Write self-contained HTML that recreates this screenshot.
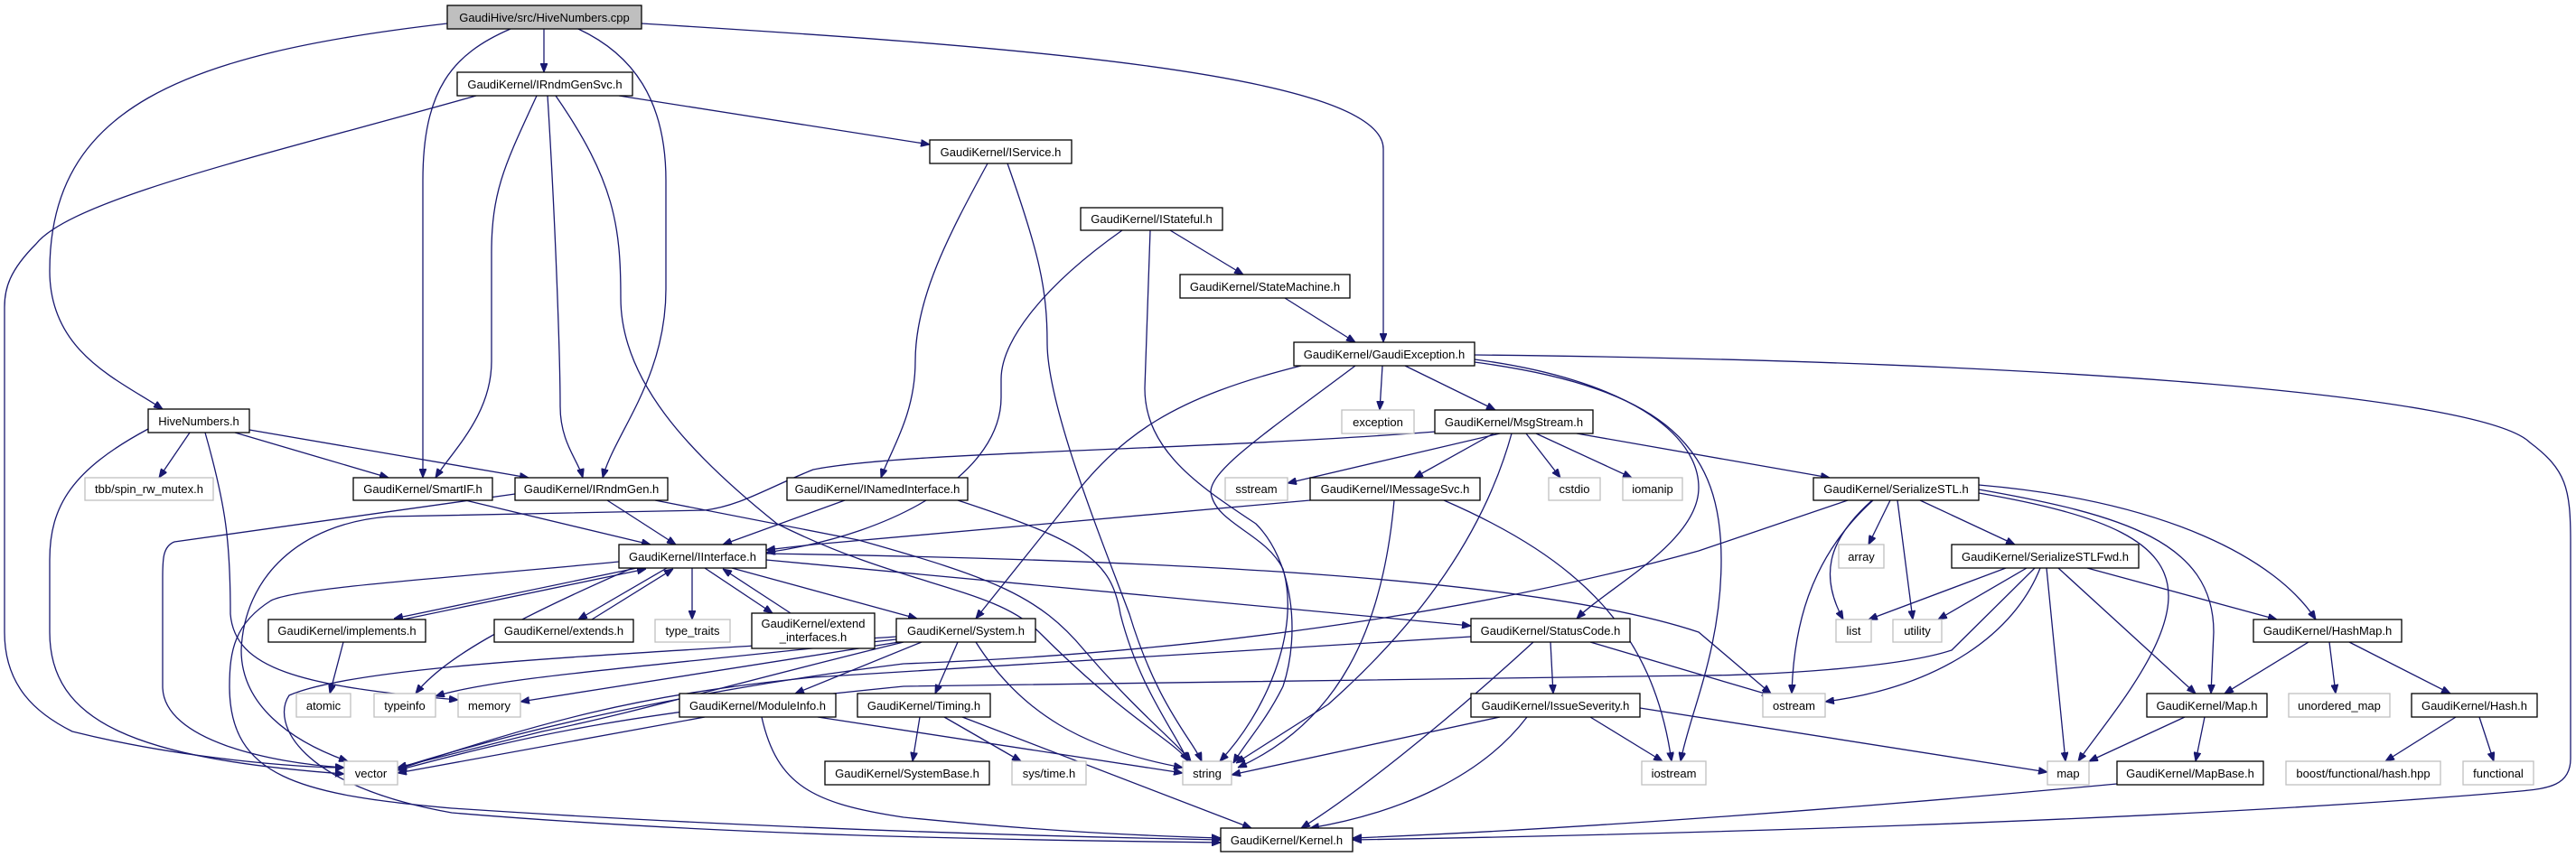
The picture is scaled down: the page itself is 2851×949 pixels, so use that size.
<!DOCTYPE html>
<html><head><meta charset="utf-8"><style>
html,body{margin:0;padding:0;background:#fff;}
svg{display:block;}
text{font-family:"Liberation Sans",Arial,sans-serif;font-size:13px;fill:#000;text-anchor:middle;}
.n{fill:#fff;stroke:#000;stroke-width:1.3;}
.g{fill:#fff;stroke:#bfbfbf;stroke-width:1.3;}
.e{fill:none;stroke:#191970;stroke-width:1.3;marker-end:url(#a);}
</style></head><body>
<svg width="2851" height="949" viewBox="0 0 2851 949" xmlns="http://www.w3.org/2000/svg">
<defs><marker id="a" viewBox="0 0 10 8" refX="10" refY="4" markerWidth="10" markerHeight="8" orient="auto" markerUnits="userSpaceOnUse"><path d="M0,0 L10,4 L0,8 z" fill="#191970" stroke="#191970"/></marker></defs>
<g>
<path class="e" d="M495,26 C200,60 55,120 55,300 C55,390 130,420 180,453"/>
<path class="e" d="M602,32 L602,80"/>
<path class="e" d="M565,32 C500,60 468,100 468,200 L468,529"/>
<path class="e" d="M640,32 C700,60 737,110 737,200 L737,320 C737,420 680,480 667,529"/>
<path class="e" d="M710,26 C1100,50 1531,80 1531,165 L1531,379"/>
<path class="e" d="M527,106 C300,170 80,220 40,270 C10,300 5,320 5,340 L5,700 C5,760 40,790 80,810 C200,840 330,850 381,850"/>
<path class="e" d="M594,106 C560,180 544,210 544,280 L544,400 C544,460 500,500 482,529"/>
<path class="e" d="M606,106 C615,250 620,400 620,450 C620,490 640,510 645,529"/>
<path class="e" d="M615,106 C680,200 687,250 687,330 C687,420 760,500 860,580 C1000,650 1100,650 1150,700 C1250,800 1300,820 1315,843"/>
<path class="e" d="M685,106 L1029,160"/>
<path class="e" d="M164,475 C80,520 55,560 55,620 L55,700 C55,800 150,840 381,857"/>
<path class="e" d="M210,479 L176,529"/>
<path class="e" d="M227,479 C250,560 255,600 255,680 C260,740 330,760 507,775"/>
<path class="e" d="M260,479 L430,529"/>
<path class="e" d="M276,476 L585,529"/>
<path class="e" d="M515,554 L720,603"/>
<path class="e" d="M672,554 L748,603"/>
<path class="e" d="M570,547 L193,600 C180,605 180,620 180,640 L180,760 C180,820 300,845 381,850"/>
<path class="e" d="M725,554 L950,598 C1100,640 1150,660 1200,720 C1260,790 1300,820 1318,843"/>
<path class="e" d="M935,554 L800,603"/>
<path class="e" d="M1060,554 C1200,600 1230,620 1240,680 C1260,760 1300,810 1315,843"/>
<path class="e" d="M1093,181 C1050,260 1013,330 1013,400 C1013,460 985,500 975,529"/>
<path class="e" d="M1115,181 C1150,280 1159,320 1159,380 C1159,450 1220,600 1250,680 C1280,780 1320,820 1330,843"/>
<path class="e" d="M1242,255 C1150,320 1108,380 1108,420 L1108,440 C1108,520 1000,590 848,612"/>
<path class="e" d="M1273,255 L1267,430 C1267,500 1330,540 1390,580 C1430,620 1440,700 1420,760 C1400,800 1380,820 1365,845"/>
<path class="e" d="M1295,255 L1376,304"/>
<path class="e" d="M1422,330 L1500,379"/>
<path class="e" d="M1530,405 L1527,454"/>
<path class="e" d="M1555,405 L1655,454"/>
<path class="e" d="M1440,405 C1300,440 1240,480 1180,560 L1080,685"/>
<path class="e" d="M1500,405 C1400,480 1340,520 1340,545 C1345,580 1400,590 1420,630 C1440,700 1400,790 1350,843"/>
<path class="e" d="M1632,398 C1800,420 1880,480 1880,540 C1880,600 1780,650 1745,685"/>
<path class="e" d="M1632,401 C1850,430 1905,500 1905,620 C1905,720 1870,790 1860,843"/>
<path class="e" d="M1632,393 C2300,400 2750,440 2800,490 C2840,520 2845,540 2845,600 L2845,840 C2845,870 2820,873 2790,876 C2400,910 1800,925 1497,930"/>
<path class="e" d="M1589,478 C1300,500 1000,500 900,520 C850,540 820,560 780,565 L430,572 C330,580 270,640 267,720 C267,780 320,820 385,843"/>
<path class="e" d="M1660,480 L1425,535"/>
<path class="e" d="M1653,480 L1565,529"/>
<path class="e" d="M1673,480 C1640,600 1560,700 1470,780 L1368,845"/>
<path class="e" d="M1689,480 L1727,529"/>
<path class="e" d="M1700,480 L1806,529"/>
<path class="e" d="M1745,480 L2025,529"/>
<path class="e" d="M1450,554 L900,603 L848,609"/>
<path class="e" d="M1543,554 C1530,700 1480,800 1370,850"/>
<path class="e" d="M1598,554 C1750,620 1830,700 1850,843"/>
<path class="e" d="M705,629 L436,685"/>
<path class="e" d="M446,686 L715,630"/>
<path class="e" d="M738,629 L640,686"/>
<path class="e" d="M655,686 L745,630"/>
<path class="e" d="M766,629 L766,686"/>
<path class="e" d="M780,629 L855,679"/>
<path class="e" d="M875,679 L800,630"/>
<path class="e" d="M810,629 L1015,685"/>
<path class="e" d="M848,620 L1628,693"/>
<path class="e" d="M848,613 C1300,620 1700,640 1880,700 L1960,768"/>
<path class="e" d="M700,629 C560,690 490,730 460,768"/>
<path class="e" d="M685,622 C500,640 330,650 300,665 C260,690 254,720 254,760 C254,860 330,880 500,895 C800,915 1100,925 1351,930"/>
<path class="e" d="M992,705 C700,725 400,735 320,770 C300,800 330,870 500,900 C800,925 1100,930 1351,933"/>
<path class="e" d="M380,711 L365,768"/>
<path class="e" d="M992,708 C700,740 550,750 482,771"/>
<path class="e" d="M995,711 L576,777"/>
<path class="e" d="M1000,711 C800,760 700,790 600,810 L440,850"/>
<path class="e" d="M1020,711 L880,768"/>
<path class="e" d="M1060,711 L1035,768"/>
<path class="e" d="M1080,711 C1130,790 1200,830 1309,850"/>
<path class="e" d="M1018,794 L1010,843"/>
<path class="e" d="M1045,794 L1130,843"/>
<path class="e" d="M1065,794 L1385,917"/>
<path class="e" d="M780,794 L440,856"/>
<path class="e" d="M905,794 L1309,856"/>
<path class="e" d="M843,794 C860,870 900,890 1000,905 C1150,920 1250,925 1351,928"/>
<path class="e" d="M1697,711 C1600,800 1500,880 1440,917"/>
<path class="e" d="M1716,711 L1719,768"/>
<path class="e" d="M1760,711 L1960,770"/>
<path class="e" d="M1628,705 L900,750 C700,770 600,800 440,852"/>
<path class="e" d="M1660,794 L1363,858"/>
<path class="e" d="M1690,794 C1640,860 1550,900 1450,917"/>
<path class="e" d="M1760,794 L1840,843"/>
<path class="e" d="M1815,784 L2266,855"/>
<path class="e" d="M2045,554 L1880,610 C1700,660 1400,720 1000,735 C800,760 600,800 440,851"/>
<path class="e" d="M2092,554 L2068,603"/>
<path class="e" d="M2125,554 L2230,603"/>
<path class="e" d="M2072,554 C2020,600 2015,640 2040,686"/>
<path class="e" d="M2100,554 L2117,686"/>
<path class="e" d="M2073,554 C2000,620 1985,700 1983,768"/>
<path class="e" d="M2190,546 C2330,570 2400,600 2400,660 C2400,720 2330,800 2300,843"/>
<path class="e" d="M2190,542 C2350,570 2450,600 2450,700 L2447,768"/>
<path class="e" d="M2190,537 C2400,555 2520,620 2563,686"/>
<path class="e" d="M2220,629 L2068,686"/>
<path class="e" d="M2243,629 L2145,686"/>
<path class="e" d="M2258,629 C2230,700 2150,760 2020,777"/>
<path class="e" d="M2252,629 L2160,720 C2100,740 1950,748 1880,748 L1000,760 C700,790 600,810 440,853"/>
<path class="e" d="M2265,629 L2286,843"/>
<path class="e" d="M2278,629 L2430,768"/>
<path class="e" d="M2310,629 L2520,686"/>
<path class="e" d="M2555,711 L2462,768"/>
<path class="e" d="M2578,711 L2585,768"/>
<path class="e" d="M2600,711 L2712,768"/>
<path class="e" d="M2418,794 L2312,843"/>
<path class="e" d="M2440,794 L2430,843"/>
<path class="e" d="M2343,868 C2000,900 1700,920 1497,928"/>
<path class="e" d="M2718,794 L2640,843"/>
<path class="e" d="M2744,794 L2760,843"/>
</g>
<g>
<rect x="495" y="6" width="215" height="26" fill="#bfbfbf" stroke="#000" stroke-width="1.3"/><text x="602.5" y="24">GaudiHive/src/HiveNumbers.cpp</text>
<rect class="n" x="506" y="80" width="194" height="26"/><text x="603" y="98">GaudiKernel/IRndmGenSvc.h</text>
<rect class="n" x="164" y="453" width="112" height="26"/><text x="220" y="471">HiveNumbers.h</text>
<rect class="g" x="94" y="529" width="142" height="25"/><text x="165" y="546">tbb/spin_rw_mutex.h</text>
<rect class="n" x="391" y="529" width="154" height="25"/><text x="468" y="546">GaudiKernel/SmartIF.h</text>
<rect class="n" x="570" y="529" width="169" height="25"/><text x="654.5" y="546">GaudiKernel/IRndmGen.h</text>
<rect class="n" x="871" y="529" width="200" height="25"/><text x="971" y="546">GaudiKernel/INamedInterface.h</text>
<rect class="g" x="1356" y="529" width="69" height="25"/><text x="1390.5" y="546">sstream</text>
<rect class="n" x="1450" y="529" width="188" height="25"/><text x="1544" y="546">GaudiKernel/IMessageSvc.h</text>
<rect class="g" x="1714" y="529" width="57" height="25"/><text x="1742.5" y="546">cstdio</text>
<rect class="g" x="1796" y="529" width="66" height="25"/><text x="1829" y="546">iomanip</text>
<rect class="n" x="2007" y="529" width="183" height="25"/><text x="2098.5" y="546">GaudiKernel/SerializeSTL.h</text>
<rect class="n" x="1029" y="155" width="157" height="26"/><text x="1107.5" y="173">GaudiKernel/IService.h</text>
<rect class="n" x="1196" y="230" width="157" height="25"/><text x="1274.5" y="247">GaudiKernel/IStateful.h</text>
<rect class="n" x="1306" y="304" width="188" height="26"/><text x="1400" y="322">GaudiKernel/StateMachine.h</text>
<rect class="n" x="1432" y="379" width="200" height="26"/><text x="1532" y="397">GaudiKernel/GaudiException.h</text>
<rect class="g" x="1485" y="454" width="80" height="26"/><text x="1525" y="472">exception</text>
<rect class="n" x="1588" y="454" width="175" height="26"/><text x="1675.5" y="472">GaudiKernel/MsgStream.h</text>
<rect class="n" x="685" y="603" width="163" height="26"/><text x="766.5" y="621">GaudiKernel/IInterface.h</text>
<rect class="g" x="2035" y="603" width="50" height="26"/><text x="2060" y="621">array</text>
<rect class="n" x="2160" y="603" width="207" height="26"/><text x="2263.5" y="621">GaudiKernel/SerializeSTLFwd.h</text>
<rect class="n" x="297" y="686" width="174" height="25"/><text x="384" y="703">GaudiKernel/implements.h</text>
<rect class="n" x="547" y="686" width="154" height="25"/><text x="624" y="703">GaudiKernel/extends.h</text>
<rect class="g" x="725" y="686" width="83" height="25"/><text x="766.5" y="703">type_traits</text>
<rect class="n" x="832" y="679" width="136" height="39"/><text x="900" y="695">GaudiKernel/extend</text><text x="900" y="710">_interfaces.h</text>
<rect class="n" x="992" y="685" width="154" height="26"/><text x="1069" y="703">GaudiKernel/System.h</text>
<rect class="n" x="1628" y="685" width="176" height="26"/><text x="1716" y="703">GaudiKernel/StatusCode.h</text>
<rect class="g" x="2032" y="686" width="39" height="25"/><text x="2051.5" y="703">list</text>
<rect class="g" x="2095" y="686" width="54" height="25"/><text x="2122" y="703">utility</text>
<rect class="n" x="2494" y="686" width="164" height="25"/><text x="2576" y="703">GaudiKernel/HashMap.h</text>
<rect class="g" x="328" y="768" width="60" height="26"/><text x="358" y="786">atomic</text>
<rect class="g" x="414" y="768" width="68" height="26"/><text x="448" y="786">typeinfo</text>
<rect class="g" x="507" y="768" width="69" height="26"/><text x="541.5" y="786">memory</text>
<rect class="n" x="752" y="768" width="173" height="26"/><text x="838.5" y="786">GaudiKernel/ModuleInfo.h</text>
<rect class="n" x="949" y="768" width="147" height="26"/><text x="1022.5" y="786">GaudiKernel/Timing.h</text>
<rect class="n" x="1628" y="768" width="187" height="26"/><text x="1721.5" y="786">GaudiKernel/IssueSeverity.h</text>
<rect class="g" x="1951" y="768" width="69" height="26"/><text x="1985.5" y="786">ostream</text>
<rect class="n" x="2376" y="768" width="133" height="26"/><text x="2442.5" y="786">GaudiKernel/Map.h</text>
<rect class="g" x="2533" y="768" width="112" height="26"/><text x="2589" y="786">unordered_map</text>
<rect class="n" x="2669" y="768" width="139" height="26"/><text x="2738.5" y="786">GaudiKernel/Hash.h</text>
<rect class="g" x="381" y="843" width="59" height="26"/><text x="410.5" y="861">vector</text>
<rect class="n" x="913" y="843" width="182" height="26"/><text x="1004" y="861">GaudiKernel/SystemBase.h</text>
<rect class="g" x="1120" y="843" width="82" height="26"/><text x="1161" y="861">sys/time.h</text>
<rect class="g" x="1309" y="843" width="54" height="26"/><text x="1336" y="861">string</text>
<rect class="g" x="1817" y="843" width="71" height="26"/><text x="1852.5" y="861">iostream</text>
<rect class="g" x="2266" y="843" width="46" height="26"/><text x="2289" y="861">map</text>
<rect class="n" x="2343" y="843" width="162" height="26"/><text x="2424" y="861">GaudiKernel/MapBase.h</text>
<rect class="g" x="2530" y="843" width="171" height="26"/><text x="2615.5" y="861">boost/functional/hash.hpp</text>
<rect class="g" x="2726" y="843" width="78" height="26"/><text x="2765" y="861">functional</text>
<rect class="n" x="1351" y="917" width="146" height="26"/><text x="1424" y="935">GaudiKernel/Kernel.h</text>
</g>
</svg>
</body></html>
